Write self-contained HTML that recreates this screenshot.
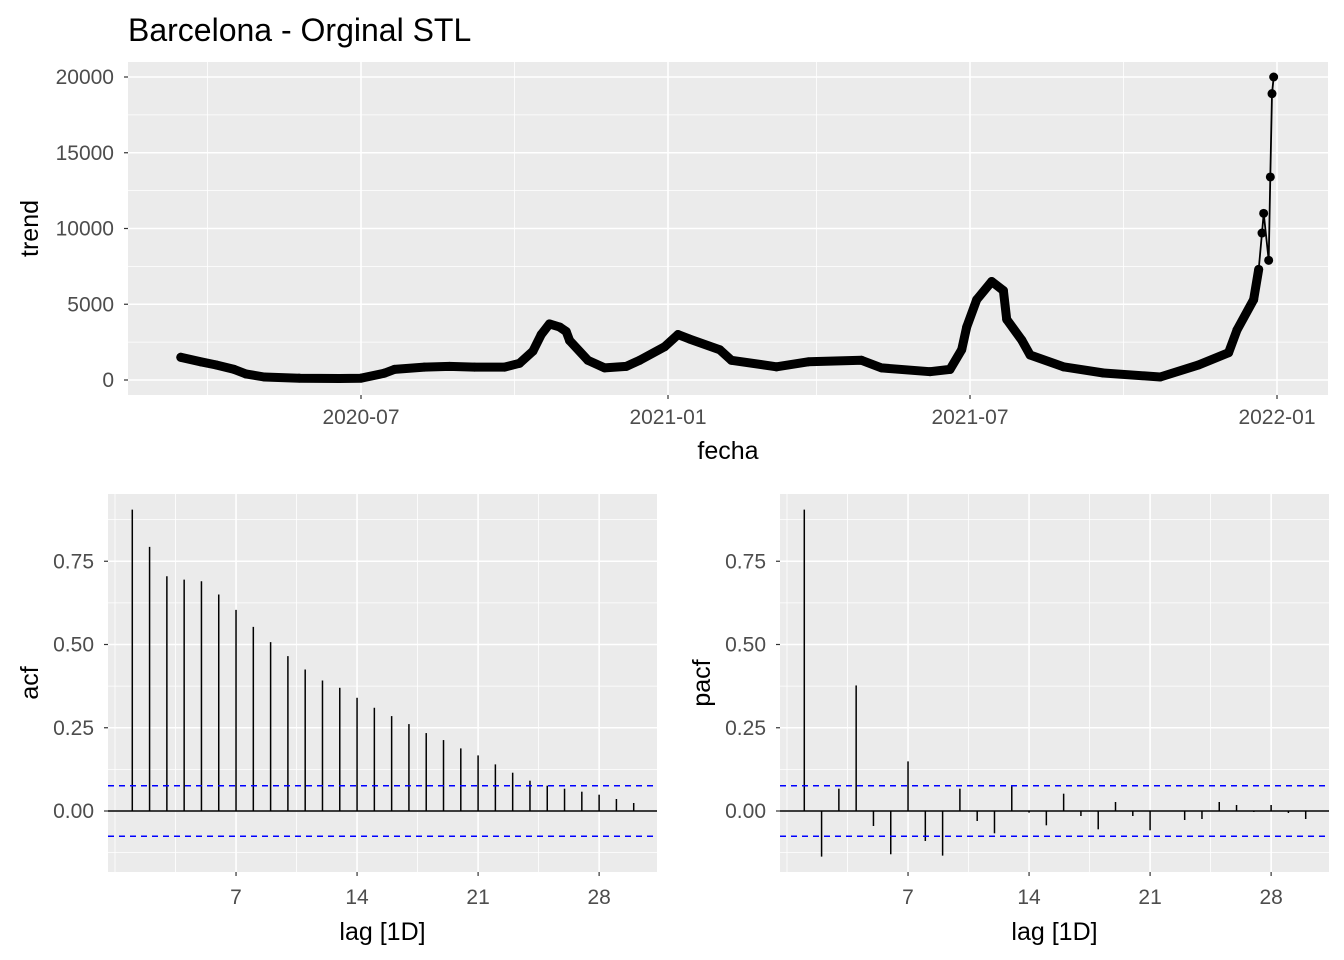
<!DOCTYPE html>
<html><head><meta charset="utf-8"><style>
html,body{margin:0;padding:0;background:#fff;}
svg{display:block;font-family:"Liberation Sans",Arial,sans-serif;}
</style></head><body>
<svg id="chart" width="1344" height="960" viewBox="0 0 1344 960" xmlns="http://www.w3.org/2000/svg">
<text x="128" y="41" font-size="32" fill="#000">Barcelona - Orginal STL</text>
<g id="top"></g><g id="acf"></g><g id="pacf"></g>
</svg>
<script>
// ---- trend data (day index since 2020-01-01) ----
const trendDays = [74,86,95,106,113,124,145,169,182,196,202,220,235,250,268,277,285,290,295,301,305,307,318,328,341,349,364,372,379,397,404,431,450,482,494,523,535,542,545,551,560,567,569,578,583,603,627,661,684,702,707,717,720,722,723,726,727,728,729];
const trendVals = [1500,1200,1000,700,400,200,120,100,120,450,700,850,900,850,850,1100,1900,3000,3700,3500,3200,2600,1300,800,900,1300,2200,3000,2700,2000,1300,870,1200,1300,800,550,700,2000,3500,5300,6500,5900,4000,2640,1650,870,460,200,1000,1800,3300,5300,7300,9700,11000,7900,13400,18900,20000];
const dateTicks = ["2020-07","2021-01","2021-07","2022-01"];
const dateTickDays = [182,366,547,731];
const trendTicks = [0,5000,10000,15000,20000];
// ---- ACF / PACF ----
const lags = [1,2,3,4,5,6,7,8,9,10,11,12,13,14,15,16,17,18,19,20,21,22,23,24,25,26,27,28,29,30];
const acfVals = [0.905,0.793,0.705,0.695,0.69,0.65,0.604,0.553,0.507,0.465,0.425,0.392,0.37,0.34,0.31,0.285,0.261,0.234,0.213,0.188,0.167,0.14,0.115,0.091,0.076,0.067,0.058,0.049,0.036,0.024];
const pacfVals = [0.905,-0.137,0.067,0.377,-0.045,-0.13,0.149,-0.09,-0.134,0.067,-0.03,-0.067,0.076,-0.005,-0.043,0.052,-0.015,-0.055,0.027,-0.015,-0.058,0.0,-0.027,-0.024,0.027,0.018,-0.003,0.018,-0.006,-0.024];
const ciLimit = 0.076;
const corrTicks = [0,0.25,0.5,0.75];
const lagTicks = [7,14,21,28];

const NS="http://www.w3.org/2000/svg";
function mk(parent,tag,attrs){const e=document.createElementNS(NS,tag);for(const k in attrs)e.setAttribute(k,attrs[k]);parent.appendChild(e);return e;}
const TICK=21, ATITLE=25;

// ---------- top panel ----------
(function(){
  const g=document.getElementById('top');
  const L=128,R=1328,T=62,B=395;
  const x=d=>361+(d-182)*1.6685;
  const y=v=>380-v*0.01515;
  const bg=mk(g,'rect',{x:L,y:T,width:R-L,height:B-T,fill:'#ebebeb'});
  
  
  for(let i=0;i<trendTicks.length-1;i++){const v=(trendTicks[i]+trendTicks[i+1])/2;mk(g,'line',{x1:L,x2:R,y1:y(v),y2:y(v),stroke:'#fff','stroke-width':0.8});}
  for(let i=0;i<dateTickDays.length;i++){const d=dateTickDays[i]-92;mk(g,'line',{x1:x(d),x2:x(d),y1:T,y2:B,stroke:'#fff','stroke-width':0.8});}
  trendTicks.forEach(v=>{mk(g,'line',{x1:L,x2:R,y1:y(v),y2:y(v),stroke:'#fff','stroke-width':1.6});
    mk(g,'line',{x1:L-4,x2:L,y1:y(v),y2:y(v),stroke:'#333','stroke-width':1.2});
    const t=mk(g,'text',{x:L-14,y:y(v)+7,'font-size':TICK,fill:'#4d4d4d','text-anchor':'end'});t.textContent=v;
    });
  dateTickDays.forEach((d,i)=>{mk(g,'line',{x1:x(d),x2:x(d),y1:T,y2:B,stroke:'#fff','stroke-width':1.6});
    mk(g,'line',{x1:x(d),x2:x(d),y1:B,y2:B+4,stroke:'#333','stroke-width':1.2});
    const t=mk(g,'text',{x:x(d),y:B+29,'font-size':TICK,fill:'#4d4d4d','text-anchor':'middle'});t.textContent=dateTicks[i];
    });
  const pts=trendDays.map((d,i)=>x(d).toFixed(1)+','+y(trendVals[i]).toFixed(1)).join(' ');
  const thick=mk(g,'polyline',{points:trendDays.slice(0,53).map((d,i)=>x(d).toFixed(1)+','+y(trendVals[i]).toFixed(1)).join(' '),fill:'none',stroke:'#000','stroke-width':9,'stroke-linejoin':'round','stroke-linecap':'round'});
  
  const line=mk(g,'polyline',{points:pts,fill:'none',stroke:'#000','stroke-width':1.8});
  
  trendDays.forEach((d,i)=>{const c=mk(g,'circle',{cx:x(d),cy:y(trendVals[i]),r:4.5,fill:'#000'});
    });
  let t=mk(g,'text',{x:(L+R)/2,y:459,'font-size':ATITLE,fill:'#000','text-anchor':'middle'});t.textContent='fecha';
  
  t=mk(g,'text',{x:0,y:0,'font-size':ATITLE,fill:'#000','text-anchor':'middle',transform:'translate(38,'+(T+B)/2+') rotate(-90)'});t.textContent='trend';
  
})();

// ---------- correlogram panels ----------
function corr(id,L,R,vals,title){
  const g=document.getElementById(id);
  const T=494,B=872;
  const x=l=>L+7+l*17.29;
  const y=v=>811-v*333;
  const bg=mk(g,'rect',{x:L,y:T,width:R-L,height:B-T,fill:'#ebebeb'});
  
  
  [-0.125,0.125,0.375,0.625,0.875].forEach(v=>mk(g,'line',{x1:L,x2:R,y1:y(v),y2:y(v),stroke:'#fff','stroke-width':0.8}));
  [0,3.5,10.5,17.5,24.5,31.5].forEach(l=>{if(x(l)<R)mk(g,'line',{x1:x(l),x2:x(l),y1:T,y2:B,stroke:'#fff','stroke-width':0.8});});
  corrTicks.forEach(v=>{mk(g,'line',{x1:L,x2:R,y1:y(v),y2:y(v),stroke:'#fff','stroke-width':1.6});
    mk(g,'line',{x1:L-4,x2:L,y1:y(v),y2:y(v),stroke:'#333','stroke-width':1.2});
    const t=mk(g,'text',{x:L-14,y:y(v)+7,'font-size':TICK,fill:'#4d4d4d','text-anchor':'end'});t.textContent=v.toFixed(2);
    });
  lagTicks.forEach(l=>{mk(g,'line',{x1:x(l),x2:x(l),y1:T,y2:B,stroke:'#fff','stroke-width':1.6});
    mk(g,'line',{x1:x(l),x2:x(l),y1:B,y2:B+4,stroke:'#333','stroke-width':1.2});
    const t=mk(g,'text',{x:x(l),y:B+32,'font-size':TICK,fill:'#4d4d4d','text-anchor':'middle'});t.textContent=l;
    });
  const z=mk(g,'line',{x1:L,x2:R,y1:y(0),y2:y(0),stroke:'#000','stroke-width':1.5});
  
  lags.forEach((l,i)=>{const b=mk(g,'line',{x1:x(l),x2:x(l),y1:y(0),y2:y(vals[i]),stroke:'#000','stroke-width':1.5});
    });
  [ciLimit,-ciLimit].forEach(v=>{const c=mk(g,'line',{x1:L,x2:R,y1:y(v),y2:y(v),stroke:'#0000ff','stroke-width':1.5,'stroke-dasharray':'6,5'});
    });
  let t=mk(g,'text',{x:(L+R)/2,y:940,'font-size':ATITLE,fill:'#000','text-anchor':'middle'});t.textContent='lag [1D]';
  
  t=mk(g,'text',{x:0,y:0,'font-size':ATITLE,fill:'#000','text-anchor':'middle',transform:'translate('+(L-70)+','+(T+B)/2+') rotate(-90)'});t.textContent=title;
  
}
corr('acf',108,657,acfVals,'acf');
corr('pacf',780,1329,pacfVals,'pacf');
</script>
</body></html>
